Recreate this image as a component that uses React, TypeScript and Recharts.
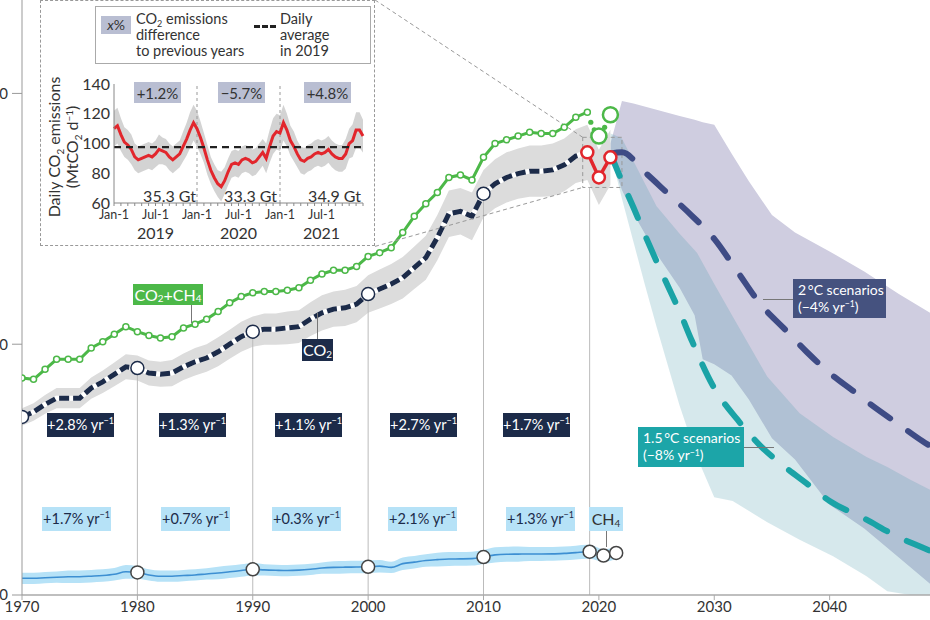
import React from "react";
import {
  ComposedChart,
  Line,
  Area,
  XAxis,
  YAxis,
  ReferenceLine,
  ReferenceArea,
} from "recharts";

const FONT = "Lato, 'Open Sans', sans-serif";

// ---- historical emissions (1970–2021) ----
const years = Array.from({ length: 52 }, (_, i) => 1970 + i);
const co2 = [
  14.2, 14.6, 15.2, 15.7, 15.7, 15.7, 16.5, 17.0, 17.6, 18.2,
  18.1, 17.7, 17.6, 17.7, 18.2, 18.6, 18.9, 19.4, 20.0, 20.6,
  21.0, 21.2, 21.2, 21.3, 21.4, 22.0, 22.5, 22.8, 22.9, 23.2,
  24.0, 24.4, 24.8, 25.3, 26.1, 26.9, 28.5, 30.4, 30.6, 30.2,
  32.0, 32.8, 33.3, 33.6, 33.8, 33.8, 33.9, 34.3, 35.0, 35.3,
  33.3, 34.9,
];
const co2Unc = [
  0.7, 0.7, 0.75, 0.8, 0.8, 0.8, 0.85, 0.9, 0.95, 1.0,
  1.0, 1.0, 1.0, 1.05, 1.05, 1.1, 1.1, 1.15, 1.15, 1.2,
  1.2, 1.25, 1.25, 1.3, 1.3, 1.35, 1.4, 1.4, 1.45, 1.45,
  1.5, 1.55, 1.6, 1.65, 1.7, 1.75, 1.8, 1.85, 1.85, 1.9,
  1.9, 1.95, 2.0, 2.0, 2.05, 2.05, 2.1, 2.1, 2.15, 2.2,
  2.2, 2.2,
];
// CO2 + CH4, 1970–2019
const co2ch4 = [
  17.3, 17.2, 18.0, 18.8, 18.8, 18.8, 19.7, 20.2, 20.8, 21.4,
  21.0, 20.7, 20.5, 20.6, 21.3, 21.6, 22.0, 22.6, 23.3, 23.8,
  24.1, 24.2, 24.2, 24.3, 24.5, 25.1, 25.6, 25.9, 25.9, 26.2,
  27.0, 27.3, 27.7, 28.9, 30.2, 31.2, 32.1, 33.3, 33.5, 33.1,
  34.9, 36.0, 36.3, 36.6, 36.9, 36.8, 36.8, 37.3, 38.1, 38.5,
];
const co2ch4TailYears = [2020, 2021];
const co2ch4Tail = [36.6, 38.3];
const co2ch4DotYears = [2019.3, 2019.6, 2020.5];
const co2ch4Dots = [37.7, 37.1, 37.3];
// CH4, 1970–2019
const ch4 = [
  1.33, 1.33, 1.38, 1.42, 1.45, 1.46, 1.5, 1.55, 1.65, 1.85,
  1.8, 1.6, 1.5, 1.5, 1.55, 1.6, 1.68, 1.75, 1.85, 1.95,
  2.05, 2.0, 1.97, 1.95, 1.98, 2.05, 2.15, 2.2, 2.22, 2.23,
  2.25, 2.3, 2.2, 2.5, 2.62, 2.75, 2.82, 2.87, 2.88, 2.9,
  3.03, 3.2, 3.25, 3.26, 3.27, 3.27, 3.28, 3.32, 3.38, 3.45,
];
const ch4Unc = [
  0.45, 0.45, 0.45, 0.45, 0.5, 0.5, 0.5, 0.5, 0.5, 0.55,
  0.5, 0.45, 0.45, 0.45, 0.45, 0.45, 0.45, 0.5, 0.5, 0.5,
  0.5, 0.45, 0.45, 0.45, 0.45, 0.45, 0.45, 0.5, 0.5, 0.5,
  0.5, 0.5, 0.45, 0.5, 0.5, 0.5, 0.55, 0.55, 0.55, 0.55,
  0.55, 0.6, 0.6, 0.6, 0.55, 0.55, 0.55, 0.55, 0.55, 0.55,
];
const ch4TailYears = [2019.2, 2020.4, 2021.5];
const ch4Tail = [3.45, 3.15, 3.35];
const ch4TailUnc = [0.55, 0.5, 0.45];

const markerYears = [1970, 1980, 1990, 2000, 2010];
const covidYears = [2019, 2020, 2021];

const growthCO2 = ["+2.8%", "+1.3%", "+1.1%", "+2.7%", "+1.7%"];
const growthCH4 = ["+1.7%", "+0.7%", "+0.3%", "+2.1%", "+1.3%"];

// ---- scenarios ----
const s2Years = [2021, 2022, 2024, 2026, 2028, 2030, 2032, 2034, 2036, 2038, 2040, 2042, 2044, 2046, 2048, 2050];
const s2Mid = [35.2, 35.3, 33.7, 32.0, 30.3, 28.4, 25.8, 23.2, 21.3, 19.4, 17.7, 16.3, 14.9, 13.6, 12.3, 11.2];
const s15Years = [2021, 2022, 2023, 2024, 2025, 2026, 2027, 2028, 2030, 2032, 2034, 2036, 2038, 2040, 2043, 2046, 2048, 2050];
const s15Mid = [35.2, 33.0, 30.9, 28.7, 26.6, 24.6, 22.6, 20.4, 16.5, 14.0, 11.9, 10.3, 8.9, 7.5, 6.1, 4.6, 3.8, 3.0];

const p2Years = [2021, 2022, 2023, 2025, 2027, 2028.3, 2029, 2030, 2031.5, 2033, 2035, 2037, 2040, 2043, 2046, 2048.7, 2050];
const p2High = [36.0, 39.4, 39.2, 38.7, 38.2, 37.9, 37.7, 37.5, 35.2, 33.0, 30.3, 28.9, 27.4, 25.8, 24.0, 22.5, 21.7];
const p2Low = [35.0, 32.3, 30.4, 27.2, 24.5, 22.3, 18.8, 18.4, 17.5, 15.6, 12.5, 10.8, 7.2, 5.3, 3.0, 0.9, 0.3];

const p15Years = [2021, 2021.3, 2022, 2024, 2025, 2027, 2028.5, 2030, 2031.6, 2034.6, 2037.4, 2040.3, 2043.2, 2045, 2047, 2048.7, 2050];
const p15High = [36.8, 36.7, 36.4, 32.8, 31.0, 28.8, 27.3, 24.8, 22.2, 17.4, 14.5, 12.6, 11.0, 10.2, 9.2, 8.4, 7.8];
const p15Low = [35.0, 34.2, 31.6, 24.7, 21.4, 15.1, 11.0, 7.8, 7.5, 5.8, 4.4, 3.1, 1.5, 0.3, 0, 0, 0];

// ---- inset: daily emissions (half-month steps from Jan-1 2019) ----
const months = Array.from({ length: 73 }, (_, i) => i * 0.5);
const dailyRed = [
  110, 112, 106, 101, 99, 96, 91, 89, 90, 91, 92, 91, 93, 96, 95, 94, 91, 89, 91, 93, 98, 103, 109, 114, 110,
  104, 97, 89, 82, 77, 73, 71, 75, 81, 86, 87, 86, 89, 90, 89, 87, 88, 91, 94, 90, 98, 105, 108, 107,
  114, 109, 102, 98, 93, 89, 88, 90, 91, 93, 94, 93, 94, 96, 93, 91, 90, 90, 93, 100, 102, 109, 109, 105,
];
const dailySpread = [
  12, 12, 11, 10, 10, 10, 9, 9, 9, 9, 9, 9, 9, 10, 9, 9, 9, 9, 9, 9, 10, 11, 12, 12, 12,
  11, 10, 10, 9, 9, 9, 10, 9, 9, 9, 9, 9, 9, 9, 9, 9, 9, 9, 9, 10, 11, 12, 12, 12,
  12, 11, 10, 10, 9, 9, 9, 9, 9, 9, 9, 9, 9, 9, 9, 9, 9, 9, 10, 10, 11, 12, 12, 11,
];
const dailyAvg2019 = 97.5;
const insetYearLabels = ["2019", "2020", "2021"];
const insetChange = ["+1.2%", "\u22125.7%", "+4.8%"];
const insetTotals = ["35.3 Gt", "33.3 Gt", "34.9 Gt"];
const monthTicks = Array.from({ length: 37 }, (_, i) => i);

const NAVY = "#1c2b49";
const GREEN = "#4cb848";
const RED = "#e2262c";
const LIGHTBLUE = "#b6e2f7";

const Sub = ({ children }: { children: React.ReactNode }) => (
  <span style={{ fontSize: "0.62em", position: "relative", top: "0.38em", lineHeight: 0 }}>{children}</span>
);
const Sup = ({ children }: { children: React.ReactNode }) => (
  <span style={{ fontSize: "0.62em", position: "relative", top: "-0.5em", lineHeight: 0 }}>{children}</span>
);

function Tag(props: {
  left: number; top: number; width: number; height: number; bg: string; color: string;
  children: React.ReactNode; fontSize?: number; col?: boolean;
}) {
  const { left, top, width, height, bg, color, children, fontSize = 15, col } = props;
  return (
    <div
      style={{
        position: "absolute", left, top, width, height, background: bg, color, fontSize,
        display: "flex", flexDirection: col ? "column" : "row",
        alignItems: col ? "flex-start" : "center", justifyContent: "center",
        paddingLeft: col ? 5 : 0, boxSizing: "border-box", whiteSpace: "nowrap", lineHeight: 1.2,
      }}
    >
      {children}
    </div>
  );
}

const Lead = ({ left, top, w, h }: { left: number; top: number; w: number; h: number }) => (
  <div style={{ position: "absolute", left, top, width: w, height: h, background: "#777" }} />
);

function InsetTick(props: any) {
  const { x, y, payload } = props;
  const m = payload.value as number;
  if (m % 6 !== 0 || m === 36) return <g />;
  const label = m % 12 === 0 ? "Jan-1" : "Jul-1";
  const yr = m % 12 === 6 ? insetYearLabels[(m - 6) / 12] : null;
  return (
    <g>
      <text x={x} y={y + 11} textAnchor="middle" fontSize={12.5} fill="#333" fontFamily={FONT}>{label}</text>
      {yr && <text x={x} y={y + 31} textAnchor="middle" fontSize={16} fill="#333" fontFamily={FONT}>{yr}</text>}
    </g>
  );
}

function Inset() {
  const rows = months.map((m, i) => ({
    m,
    v: dailyRed[i],
    r: [dailyRed[i] - dailySpread[i], dailyRed[i] + dailySpread[i]],
  }));
  const changeLeft = [93, 177, 263];
  const totalRight = [155, 236, 320];
  return (
    <div
      style={{
        position: "absolute", left: 40, top: 0, width: 335, height: 246,
        border: "1px dashed #999", boxSizing: "border-box", background: "#fff",
      }}
    >
      <div style={{ position: "absolute", left: -1, top: -1 }}>
        <ComposedChart width={335} height={246} data={rows} margin={{ top: 84, right: 12, bottom: 0, left: 0 }}>
          <XAxis
            dataKey="m" type="number" domain={[0, 36]} ticks={monthTicks} interval={0}
            height={43} tickSize={3} tick={<InsetTick />}
            axisLine={{ stroke: "#888" }} tickLine={{ stroke: "#888" }}
          />
          <YAxis
            type="number" domain={[60, 140]} ticks={[60, 80, 100, 120, 140]} width={74}
            tickSize={0} tickMargin={4} axisLine={{ stroke: "#888" }}
            tick={{ fill: "#333", fontSize: 16, fontFamily: FONT }}
          />
          <ReferenceLine x={12} stroke="#999" strokeDasharray="3 3" />
          <ReferenceLine x={24} stroke="#999" strokeDasharray="3 3" />
          <Area dataKey="r" stroke="none" fill="#cbcbcb" fillOpacity={0.85} isAnimationActive={false} />
          <Line dataKey="v" stroke={RED} strokeWidth={3} dot={false} isAnimationActive={false} />
          <ReferenceLine y={dailyAvg2019} stroke="#222" strokeWidth={2.2} strokeDasharray="7 5" />
        </ComposedChart>
      </div>
      {insetChange.map((t, i) => (
        <Tag key={t} left={changeLeft[i]} top={81} width={47} height={21} bg="#b9bed2" color="#333" fontSize={15}>
          {t}
        </Tag>
      ))}
      {insetTotals.map((t, i) => (
        <div key={t} style={{ position: "absolute", left: totalRight[i] - 80, width: 80, top: 185, textAlign: "right", fontSize: 16, color: "#333" }}>
          {t}
        </div>
      ))}
      {/* y axis title */}
      <div
        style={{
          position: "absolute", left: 23 - 80, top: 146 - 19, width: 160, height: 38,
          transform: "rotate(-90deg)", textAlign: "center", fontSize: 16, lineHeight: "18px", color: "#333",
        }}
      >
        Daily CO<Sub>2</Sub> emissions
        <br />
        (MtCO<Sub>2</Sub> d<Sup>{"\u22121"}</Sup>)
      </div>
      {/* legend */}
      <div
        style={{
          position: "absolute", left: 54, top: 5, width: 276, height: 58,
          border: "1.5px solid #aaa", boxSizing: "border-box", fontSize: 14.5, color: "#333", lineHeight: "16px",
        }}
      >
        <div style={{ position: "absolute", left: 5, top: 9, width: 30, height: 18, background: "#b9bed2", textAlign: "center", lineHeight: "18px", fontSize: 14 }}>
          <i>x</i>%
        </div>
        <div style={{ position: "absolute", left: 40, top: 4 }}>
          CO<Sub>2</Sub> emissions
          <br />
          difference
          <br />
          to previous years
        </div>
        <div style={{ position: "absolute", left: 158, top: 18, width: 22, borderTop: "3px dashed #222" }} />
        <div style={{ position: "absolute", left: 184, top: 4 }}>
          Daily
          <br />
          average
          <br />
          in 2019
        </div>
      </div>
    </div>
  );
}

export default function App() {
  const co2Rows = years.map((x, i) => ({ x, v: co2[i], r: [co2[i] - co2Unc[i], co2[i] + co2Unc[i]] }));
  const histRows = co2Rows.filter((d) => d.x <= 2019);
  const redRows = co2Rows.filter((d) => covidYears.includes(d.x));
  const markerRows = co2Rows.filter((d) => markerYears.includes(d.x));
  const greenRows = co2ch4.map((v, i) => ({ x: years[i], v }));
  const greenTail = co2ch4TailYears.map((x, i) => ({ x, v: co2ch4Tail[i] }));
  const greenDots = co2ch4DotYears.map((x, i) => ({ x, v: co2ch4Dots[i] }));
  const ch4Rows = ch4.map((v, i) => ({ x: years[i], v, r: [v - ch4Unc[i], v + ch4Unc[i]] }));
  const ch4TailRows = ch4TailYears.map((x, i) => ({
    x, v: ch4Tail[i], r: [ch4Tail[i] - ch4TailUnc[i], ch4Tail[i] + ch4TailUnc[i]],
  }));
  const ch4BandRows = [...ch4Rows, ...ch4TailRows];
  const ch4LineRows = [...ch4Rows, ch4TailRows[0]];
  const ch4Markers = [...ch4Rows.filter((d) => markerYears.slice(1).includes(d.x)), ...ch4TailRows];
  const s2Rows = s2Years.map((x, i) => ({ x, v: s2Mid[i] }));
  const s15Rows = s15Years.map((x, i) => ({ x, v: s15Mid[i] }));
  const p2Rows = p2Years.map((x, i) => ({ x, r: [p2Low[i], p2High[i]] }));
  const p15Rows = p15Years.map((x, i) => ({ x, r: [p15Low[i], p15High[i]] }));

  const navyLefts = [47, 159, 275, 390, 503];
  const blueLefts = [42, 161, 272, 388, 506];

  return (
    <div
      style={{
        position: "absolute", left: 0, top: 0, width: 930, height: 620, overflow: "hidden",
        background: "#fff", fontFamily: FONT,
      }}
    >
      <div style={{ position: "absolute", left: 0, top: 0 }}>
        <ComposedChart width={960} height={620} margin={{ top: 0, right: 15, bottom: 0, left: 0 }}>
          <XAxis
            dataKey="x" type="number" domain={[1970, 2050]} allowDataOverflow
            ticks={[1970, 1980, 1990, 2000, 2010, 2020, 2030, 2040]} interval={0}
            height={25} tickSize={5} tickMargin={1}
            axisLine={{ stroke: "#aaa", strokeWidth: 1.5 }} tickLine={{ stroke: "#aaa" }}
            tick={{ fill: "#333", fontSize: 15, fontFamily: FONT }}
          />
          <YAxis
            type="number" domain={[0, 47.45]} allowDataOverflow ticks={[0, 20, 40]} width={22}
            tickSize={10} tickMargin={4} axisLine={{ stroke: "#999" }} tickLine={{ stroke: "#999" }}
            tick={{ fill: "#333", fontSize: 15, fontFamily: FONT }}
          />
          {markerRows.slice(1).map((d) => (
            <ReferenceLine key={d.x} segment={[{ x: d.x, y: d.v }, { x: d.x, y: 0 }]} stroke="#bbb" />
          ))}
          <ReferenceLine segment={[{ x: 2019.2, y: 32.5 }, { x: 2019.2, y: 0 }]} stroke="#bbb" />

          {/* scenario ranges */}
          <Area data={p2Rows} dataKey="r" type="linear" stroke="none" fill="#cfcde0" fillOpacity={1} isAnimationActive={false} />
          <Area data={p15Rows} dataKey="r" type="linear" stroke="none" fill="#4496a8" fillOpacity={0.22} isAnimationActive={false} />

          {/* CH4 */}
          <Area data={ch4BandRows} dataKey="r" type="monotone" stroke="none" fill={LIGHTBLUE} fillOpacity={1} isAnimationActive={false} />
          <Line data={ch4LineRows} dataKey="v" type="monotone" stroke="#3d8fd2" strokeWidth={1.6} dot={false} isAnimationActive={false} />

          {/* CO2 band + line */}
          <Area data={co2Rows} dataKey="r" type="linear" stroke="none" fill="#dcdcdc" fillOpacity={1} isAnimationActive={false} />
          <Line data={histRows} dataKey="v" type="linear" stroke="#fff" strokeWidth={5} dot={false} isAnimationActive={false} />
          <Line data={histRows} dataKey="v" type="linear" stroke={NAVY} strokeWidth={5} strokeDasharray="10 4" dot={false} isAnimationActive={false} />

          {/* CO2 + CH4 */}
          <Line
            data={greenRows} dataKey="v" type="linear" stroke={GREEN} strokeWidth={3}
            dot={{ r: 3, fill: "#fff", stroke: GREEN, strokeWidth: 1.5 }} isAnimationActive={false}
          />
          <Line data={greenDots} dataKey="v" stroke="none" dot={{ r: 2.6, fill: GREEN, stroke: "none" }} isAnimationActive={false} />
          <Line data={greenTail} dataKey="v" stroke="none" dot={{ r: 7.5, fill: "#fff", stroke: GREEN, strokeWidth: 2.5 }} isAnimationActive={false} />

          {/* scenario medians */}
          <Line data={s2Rows} dataKey="v" type="monotone" stroke="#3e4b85" strokeWidth={6} strokeDasharray="24 22" strokeLinecap="round" dot={false} isAnimationActive={false} />
          <Line data={s15Rows} dataKey="v" type="monotone" stroke="#1aa3a6" strokeWidth={6} strokeDasharray="24 22" strokeLinecap="round" dot={false} isAnimationActive={false} />

          {/* 2019–2021 */}
          <Line
            data={redRows} dataKey="v" type="linear" stroke={RED} strokeWidth={3.5}
            dot={{ r: 6, fill: "#fff", stroke: RED, strokeWidth: 2.5 }} isAnimationActive={false}
          />
          <Line data={markerRows} dataKey="v" stroke="none" dot={{ r: 6.5, fill: "#fff", stroke: NAVY, strokeWidth: 1.5 }} isAnimationActive={false} />
          <Line data={ch4Markers} dataKey="v" stroke="none" dot={{ r: 6.5, fill: "#fff", stroke: "#444", strokeWidth: 1.5 }} isAnimationActive={false} />

          {/* zoom frame and connectors */}
          <ReferenceArea x1={2018.6} x2={2022} y1={32.5} y2={36.5} fill="none" stroke="#999" strokeDasharray="4 3" />
          <ReferenceLine segment={[{ x: 2000.6, y: 47.45 }, { x: 2018.6, y: 36.5 }]} stroke="#999" strokeDasharray="4 3" />
          <ReferenceLine segment={[{ x: 2000.6, y: 27.8 }, { x: 2018.6, y: 32.5 }]} stroke="#999" strokeDasharray="4 3" />
        </ComposedChart>
      </div>

      <Inset />

      {/* series labels */}
      <Lead left={191} top={305} w={1} h={18} />
      <Tag left={133} top={284} width={70} height={21} bg={GREEN} color="#fff" fontSize={16}>
        CO<Sub>2</Sub>+CH<Sub>4</Sub>
      </Tag>
      <Lead left={317} top={313} w={1} h={26} />
      <Tag left={302} top={339} width={31} height={22} bg={NAVY} color="#fff" fontSize={16}>
        CO<Sub>2</Sub>
      </Tag>
      <Lead left={606} top={531} w={1} h={16} />
      <Tag left={589} top={507} width={34} height={24} bg={LIGHTBLUE} color="#333" fontSize={16}>
        CH<Sub>4</Sub>
      </Tag>

      {growthCO2.map((g, i) => (
        <Tag key={"c" + i} left={navyLefts[i]} top={413} width={67} height={24} bg={NAVY} color="#fff" fontSize={14.5}>
          {g}&nbsp;yr<Sup>{"\u22121"}</Sup>
        </Tag>
      ))}
      {growthCH4.map((g, i) => (
        <Tag key={"m" + i} left={blueLefts[i]} top={507} width={69} height={24} bg={LIGHTBLUE} color="#1c2b49" fontSize={14.5}>
          {g}&nbsp;yr<Sup>{"\u22121"}</Sup>
        </Tag>
      ))}

      <Lead left={763} top={299} w={30} h={1} />
      <Tag left={793} top={279} width={93} height={39} bg="#45527f" color="#fff" fontSize={14} col>
        <div>2&thinsp;°C scenarios</div>
        <div>
          (−4% yr<Sup>{"\u22121"}</Sup>)
        </div>
      </Tag>
      <Lead left={744} top={447} w={30} h={1} />
      <Tag left={638} top={427} width={106} height={40} bg="#1ca5a8" color="#fff" fontSize={14} col>
        <div>1.5&thinsp;°C scenarios</div>
        <div>
          (−8% yr<Sup>{"\u22121"}</Sup>)
        </div>
      </Tag>
    </div>
  );
}
